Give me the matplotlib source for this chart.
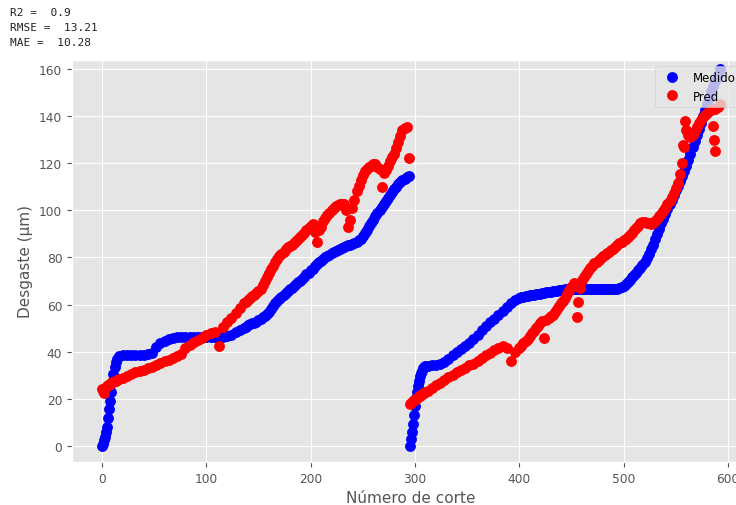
import matplotlib
matplotlib.use("Agg")
import matplotlib.pyplot as plt

# first tool: cut numbers and measured / predicted wear
cuts1 = [0, 1, 2, 3, 4, 5, 6, 7, 8, 9, 10, 11, 12, 13, 14,
         16, 20, 24, 28, 32, 36, 40, 44, 48, 52,
         56, 60, 64, 68, 72, 76, 80, 84, 88, 92,
         96, 100, 104, 108, 112, 116, 120, 124, 128, 132,
         136,
         138, 140, 142, 144, 146, 148, 150, 152, 154, 156,
         158, 160, 162, 164, 166, 168, 170, 172, 174, 176,
         178, 180, 182, 184, 186, 188, 190, 192, 194, 196,
         198, 200, 202, 204, 206, 208, 210, 212, 214, 216,
         218, 220, 222, 224, 226, 228, 230, 232, 234, 236,
         238, 240, 242, 244, 246, 248, 250, 252, 254, 256,
         258, 260, 262, 264, 266, 268, 270, 272, 274, 276,
         278, 280, 282, 284, 286, 288, 290, 292, 294]
medido1 = [0, 1, 2.5, 4, 6, 8, 12, 15.5, 19, 23, 27, 30.5, 33.5, 35.5, 37,
           38.3, 38.6, 38.7, 38.7, 38.7, 38.7, 38.8, 39, 39.5, 42,
           43.5, 44.7, 45.5, 46, 46.3, 46.3, 46.3, 46.3, 46.3, 46.3,
           46.3, 46.3, 46.3, 46.3, 46.3, 46.3, 46.6, 47.3, 48.2, 49.2,
           50.2,
           50.7, 51.2, 51.6, 52, 52.4, 52.8, 53.4, 54, 54.6, 55.3,
           56.1, 57, 58.2, 59.5, 60.5, 61.5, 62.4, 63.3, 64.2, 65,
           65.8, 66.5, 67.2, 68, 68.8, 69.5, 70.2, 71, 71.9, 72.8,
           73.6, 74.5, 75.3, 76.2, 77.1, 78, 78.7, 79.4, 80, 80.6,
           81.2, 81.8, 82.3, 82.8, 83.3, 83.7, 84.1, 84.5, 84.9, 85.2,
           85.5, 85.8, 86.1, 86.5, 87.2, 88, 89.2, 90.5, 91.8, 93.2,
           94.6, 96, 97.4, 98.8, 100.2, 101.5, 102.8, 104, 105.3, 106.5,
           107.8, 109, 110, 111, 111.9, 112.8, 113.5, 114.2, 114.6]
pred1 = [24, 23.5, 22.5, 24.5, 25, 25.5, 25.8, 26, 26.3, 26.6, 27, 27.2, 27.5, 27.7, 28,
         28.3, 29, 29.8, 30.5, 31.2, 31.8, 32.3, 32.9, 33.6, 34.3,
         35.1, 35.9, 36.6, 37.4, 38.3, 39.2, 41.5, 42.8, 44, 45,
         46, 47, 48, 48.5, 42.5, 50.5, 52.5, 54.5, 56.5, 58.5,
         60.5,
         61.3, 62, 62.8, 63.5, 64.2, 65, 65.8, 66.8, 68.3, 70,
         71.8, 73.5, 75, 76.5, 78, 79.5, 80.5, 81.5, 82.5, 83.5,
         84.3, 85, 85.5, 86, 87, 88, 88.7, 89.5, 90.5, 91.5,
         92.5, 93.5, 94, 91, 86.5, 91.5, 93, 95.5, 96.8, 98,
         99, 100, 101, 102, 102.4, 102.7, 102.8, 102.5, 100, 93,
         96, 101, 104.5, 108, 110.5, 113, 115, 116.5, 117.5, 118.5,
         119, 119.5, 119.8, 118.5, 117.5, 110, 116, 117, 119, 121,
         122.5, 124, 126.5, 129, 131.5, 134, 135, 135.5, 122]

# second tool
cuts2 = [295, 296, 297, 298, 299, 300, 301, 302, 303, 304, 305, 306, 307, 308, 309, 310,
         312, 316, 320, 324, 328, 332, 336, 340, 344, 348,
         352, 356, 360, 364, 368, 372, 376, 380, 384, 388,
         392, 396,
         400, 402, 404, 406, 408, 410, 412, 414, 416, 418,
         420, 422, 424, 426, 428, 430, 432, 434, 436, 438,
         440, 442, 444, 446, 448, 450, 452, 454, 456, 458,
         460, 462, 464, 466, 468, 470, 472, 474, 476, 478,
         480, 482, 484, 486, 488, 490, 492, 494, 496, 498,
         500, 502, 504, 506, 508, 510, 512, 514, 516, 518,
         520, 522, 524, 526, 528, 530, 532, 534, 536, 538,
         540, 542, 544, 546, 548, 550, 552, 554, 556, 558,
         560, 562, 564, 566, 568, 570, 572, 574, 576, 578,
         580, 582, 584, 586, 588, 590, 592]
medido2 = [0, 3, 6, 9.5, 13, 17, 20.5, 23, 25.5, 27.5, 29.5, 31, 32, 33, 33.5, 33.8,
           34, 34.3, 34.4, 34.8, 35.8, 37, 38.5, 40, 41.2, 42.3,
           43.6, 45.3, 47.2, 49.2, 51, 52.5, 54, 55.7, 57.3, 59,
           60.5, 61.8,
           62.8, 63.1, 63.4, 63.6, 63.8, 63.9, 64, 64.15, 64.3, 64.45,
           64.6, 64.8, 65, 65.15, 65.3, 65.45, 65.6, 65.75, 65.9, 66.05,
           66.2, 66.35, 66.5, 66.6, 66.7, 66.75, 66.8, 66.8, 66.8, 66.8,
           66.8, 66.8, 66.8, 66.8, 66.8, 66.8, 66.8, 66.8, 66.8, 66.8,
           66.8, 66.8, 66.8, 66.8, 66.8, 66.8, 66.8, 66.8, 67.2, 67.5,
           68, 68.7, 69.5, 70.5, 71.5, 72.5, 73.5, 74.5, 75.5, 76.7,
           78, 79.7, 81.5, 83.5, 85.5, 87.7, 90, 92.2, 94.5, 96.5,
           98.5, 100.5, 102.5, 104.5, 106.5, 108.5, 110.5, 112.5, 114.5, 116.7,
           119, 121.5, 124, 126.7, 129.5, 132, 134.5, 137.2, 140, 142.5,
           145, 147.7, 150.5, 152.8, 155, 157.5, 160]
pred2 = [18, 18.3, 18.7, 19, 19.3, 19.6, 20, 20.3, 20.7, 21, 21.3, 21.7, 22, 22.3, 22.6, 23,
         23.5, 24.6, 25.7, 26.8, 27.9, 29.2, 30.3, 31.3, 32.3, 33.3,
         34.2, 35, 36, 37.2, 38.4, 39.5, 40.6, 41.6, 42.5, 41.5,
         36, 40,
         41.5, 42.5, 43.5, 44.5, 45.5, 46.8, 48, 49, 50, 51,
         52, 53, 46, 53.5, 54.5, 55, 55.5, 56.7, 58, 59.2,
         60.5, 61.7, 63, 64.5, 66, 67.5, 69, 68.5, 61, 67,
         70.5, 71.8, 73, 74.2, 75.5, 76.5, 77.5, 78.2, 79, 79.8,
         80.5, 81.2, 82, 82.5, 83, 83.7, 84.5, 85.2, 86, 86.7,
         87.3, 87.9, 88.5, 89.5, 90.5, 91.5, 92.5, 93.5, 94.5, 95.2,
         95, 94.6, 94.5, 94.4, 94.5, 95.5, 96.5, 97.5, 98.5, 99.7,
         101, 102.5, 104, 105.7, 107.5, 109.5, 111.5, 115.5, 120, 127,
         134, 132, 131, 132, 133.5, 135.3, 137, 138.3, 139.5, 140.5,
         141.5, 142, 142.5, 142.8, 143, 144, 145]

# scattered predictions off the main trend
pred_extra_cuts = [455, 557, 559, 586, 587, 588]
pred_extra = [54.7, 127.8, 138, 136, 130, 125]

metrics_text = "R2 =  0.9\nRMSE =  13.21\nMAE =  10.28"

plt.style.use("ggplot")
fig = plt.figure(figsize=(7.36, 5.06), dpi=100)
ax = fig.add_axes([72 / 736, 43 / 506, 678 / 736, 402 / 506])

ax.plot(cuts1 + cuts2, medido1 + medido2, "o", color="blue", markersize=6.8, label="Medido")
ax.plot(cuts1 + cuts2 + pred_extra_cuts, pred1 + pred2 + pred_extra, "o", color="red",
        markersize=6.8, label="Pred")

ax.set_xlim(-28.75, 621.1)
ax.set_ylim(-6.8, 163.8)
ax.set_xticks([0, 100, 200, 300, 400, 500, 600])
ax.set_yticks([0, 20, 40, 60, 80, 100, 120, 140, 160])
ax.tick_params(labelsize=8.8)
ax.set_xlabel("Número de corte", fontsize=11)
ax.set_ylabel("Desgaste (µm)", fontsize=11)

ax.legend(loc="upper left", bbox_to_anchor=(655 / 736, 1 - 67 / 506),
          bbox_transform=fig.transFigure, fontsize=8.5, borderaxespad=0)

fig.text(10 / 736, 1 - 8 / 506, metrics_text, family="DejaVu Sans Mono", fontsize=8,
         va="top", ha="left", color="#222222", linespacing=1.65)

fig.savefig("out.png", dpi=100)
